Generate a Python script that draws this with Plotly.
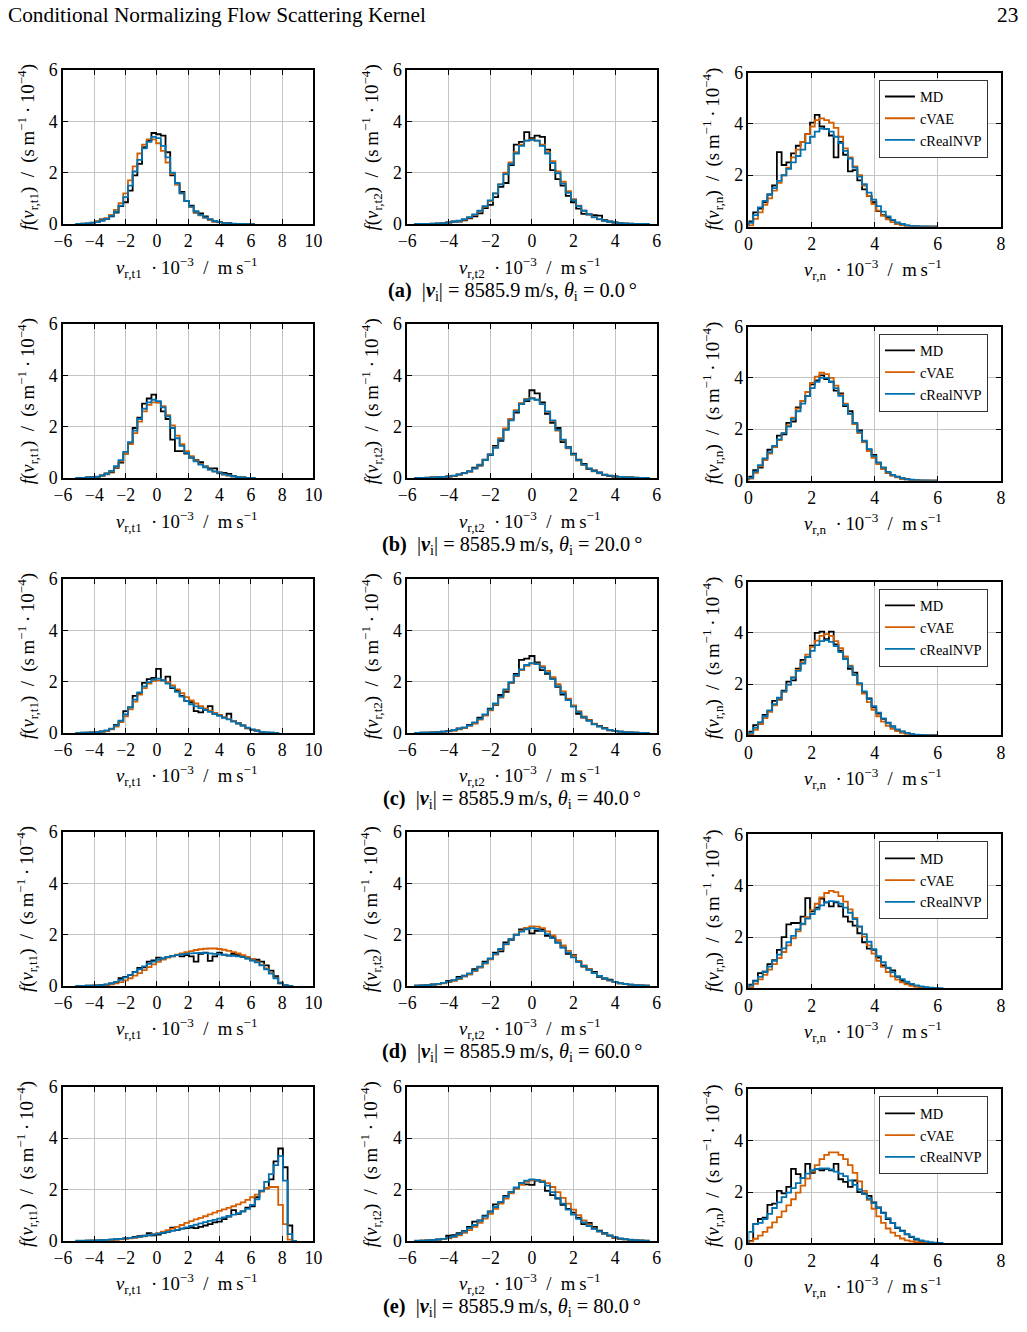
import plotly.graph_objects as go

# The page is photographed with the default 8px body margin and a slight
# down-scale; positions below are given in final screen pixels and mapped back.
PAGE_MARGIN = 8
KX = 1027 / 1043
KY = 1332 / 1352
W, H = 1027, 1336
FS = 1 / KX  # font scale so that text ends up at the intended screen size

# ---------------- data ----------------
# bin layout per column: first bin left edge and bin width (units of 10^3 m/s)
BIN_START = [-5.15, -5.625, 0.0]
BIN_WIDTH = [0.3, 0.25, 0.15]
X_RANGE = [[-6, 10], [-6, 6], [0, 8]]
X_TICKS = [[-6, -4, -2, 0, 2, 4, 6, 8, 10], [-6, -4, -2, 0, 2, 4, 6], [0, 2, 4, 6, 8]]
Y_TICKS = [0, 2, 4, 6]
COMPONENTS = ["t1", "t2", "n"]
SERIES = ["MD", "cVAE", "cRealNVP"]
ROW_LETTERS = ["a", "b", "c", "d", "e"]
SPEED = 8585.9
THETA = [0.0, 20.0, 40.0, 60.0, 80.0]

# row a
a1_md = [0.0,0.01,0.02,0.06,0.1,0.18,0.2,0.3,0.45,0.7,0.85,1.3,1.9,2.35,3.0,3.25,3.55,3.5,3.45,2.8,1.9,1.55,1.25,0.9,0.72,0.45,0.42,0.3,0.18,0.1,0.08,0.05,0.04,0.01,0.01,0,0,0]
a1_cvae = [0.01,0.02,0.03,0.05,0.09,0.15,0.23,0.36,0.55,0.82,1.2,1.7,2.25,2.75,3.1,3.3,3.3,3.15,2.85,2.4,1.95,1.55,1.2,0.9,0.66,0.48,0.34,0.24,0.16,0.1,0.07,0.04,0.02,0.01,0.005,0,0,0]
a1_nvp = [0.01,0.02,0.03,0.05,0.08,0.13,0.2,0.32,0.48,0.72,1.05,1.5,2.05,2.5,2.95,3.2,3.4,3.35,3.05,2.6,2.0,1.6,1.2,0.9,0.68,0.5,0.36,0.26,0.18,0.12,0.08,0.05,0.03,0.02,0.01,0.005,0,0]

a2_md = [0,0,0.01,0.01,0.02,0.04,0.07,0.1,0.1,0.15,0.22,0.3,0.42,0.62,0.75,1.05,1.45,1.6,2.3,3.1,3.2,3.58,3.35,3.45,3.4,2.9,2.1,1.75,1.5,1.1,0.85,0.6,0.4,0.38,0.35,0.33,0.15,0.1,0.07,0.04,0.02,0.01,0.01,0,0]
a2_cvae = [0.005,0.01,0.01,0.02,0.03,0.04,0.06,0.08,0.12,0.17,0.25,0.36,0.5,0.68,0.9,1.2,1.55,2.0,2.4,2.8,3.1,3.25,3.3,3.25,3.1,2.8,2.45,2.05,1.65,1.28,0.97,0.72,0.52,0.37,0.26,0.18,0.12,0.08,0.05,0.035,0.02,0.015,0.01,0.005,0.0]
a2_nvp = [0.005,0.01,0.01,0.02,0.03,0.04,0.06,0.09,0.13,0.19,0.27,0.38,0.52,0.7,0.92,1.2,1.55,1.95,2.35,2.75,3.05,3.25,3.28,3.25,3.05,2.75,2.38,1.98,1.58,1.22,0.93,0.7,0.52,0.38,0.27,0.19,0.13,0.09,0.06,0.04,0.03,0.02,0.01,0.01,0.005]

a3_md = [0.2,0.55,0.7,0.95,1.25,1.6,2.9,2.4,2.5,2.85,3.15,3.3,3.6,4.05,4.35,3.9,3.8,3.55,2.7,3.3,2.8,2.15,2.2,1.8,1.45,1.2,0.95,0.6,0.45,0.35,0.25,0.1,0.1,0.03,0.02,0.01,0,0,0,0]
a3_cvae = [0.05,0.3,0.55,0.85,1.1,1.4,1.7,2.0,2.3,2.7,3.0,3.3,3.6,3.9,4.15,4.22,4.15,4.05,3.85,3.5,3.05,2.7,2.35,2.0,1.6,1.2,0.88,0.62,0.42,0.28,0.17,0.1,0.05,0.03,0.01,0.005,0,0,0,0]
a3_nvp = [0.15,0.45,0.75,1.0,1.25,1.5,1.78,2.0,2.25,2.5,2.75,3.0,3.25,3.5,3.7,3.82,3.8,3.7,3.5,3.25,2.95,2.65,2.3,1.95,1.65,1.32,1.05,0.8,0.58,0.4,0.26,0.16,0.1,0.06,0.03,0.02,0.01,0.005,0,0]

# row b
b1_md = [0,0.01,0.02,0.03,0.04,0.1,0.18,0.22,0.4,0.6,0.95,1.35,1.95,2.35,2.9,3.1,3.25,2.95,2.6,2.3,1.5,1.05,1.05,0.95,0.8,0.7,0.62,0.45,0.38,0.38,0.22,0.2,0.16,0.08,0.04,0.02,0.01,0]
b1_cvae = [0.005,0.01,0.015,0.025,0.04,0.08,0.14,0.25,0.42,0.65,0.95,1.32,1.75,2.2,2.6,2.85,2.95,2.95,2.8,2.45,2.05,1.65,1.32,1.05,0.85,0.68,0.55,0.43,0.33,0.25,0.18,0.13,0.09,0.06,0.04,0.02,0.01,0.005]
b1_nvp = [0.005,0.01,0.02,0.03,0.05,0.09,0.16,0.28,0.46,0.7,1.02,1.4,1.85,2.3,2.7,2.95,3.05,3.0,2.75,2.4,1.95,1.55,1.25,0.98,0.8,0.65,0.52,0.42,0.33,0.26,0.19,0.14,0.1,0.07,0.04,0.02,0.01,0.005]

b2_md = [0,0,0.01,0.02,0.03,0.04,0.06,0.08,0.14,0.2,0.25,0.4,0.48,0.72,0.9,1.25,1.45,1.9,2.3,2.55,2.9,3.0,3.42,3.3,2.95,2.5,2.15,1.95,1.4,1.2,0.95,0.72,0.55,0.35,0.3,0.22,0.12,0.08,0.06,0.04,0.03,0.02,0.01,0,0]
b2_cvae = [0.005,0.01,0.012,0.018,0.027,0.04,0.06,0.085,0.125,0.18,0.26,0.37,0.51,0.7,0.93,1.2,1.55,1.93,2.3,2.65,2.92,3.08,3.12,3.05,2.88,2.58,2.22,1.85,1.48,1.16,0.9,0.68,0.5,0.37,0.26,0.18,0.13,0.09,0.06,0.04,0.03,0.02,0.012,0.008,0.005]
b2_nvp = [0.005,0.01,0.015,0.02,0.03,0.045,0.065,0.09,0.13,0.19,0.27,0.38,0.52,0.7,0.92,1.18,1.5,1.88,2.25,2.6,2.88,3.05,3.1,3.05,2.88,2.6,2.25,1.88,1.5,1.18,0.92,0.7,0.52,0.38,0.27,0.19,0.13,0.09,0.065,0.045,0.03,0.02,0.015,0.01,0.005]

b3_md = [0.15,0.4,0.5,0.85,1.2,1.3,1.75,1.8,2.25,2.3,2.85,3.1,3.3,3.75,3.9,4.1,3.95,3.85,3.5,3.4,2.9,2.7,2.2,1.95,1.5,1.2,1.0,0.7,0.5,0.3,0.2,0.15,0.08,0.05,0.02,0.01,0,0,0,0]
b3_cvae = [0.08,0.3,0.55,0.8,1.05,1.3,1.58,1.85,2.15,2.45,2.8,3.1,3.45,3.8,4.05,4.2,4.15,4.0,3.7,3.35,3.0,2.6,2.2,1.85,1.5,1.15,0.88,0.64,0.45,0.3,0.19,0.12,0.07,0.04,0.02,0.01,0.005,0,0,0]
b3_nvp = [0.1,0.35,0.6,0.85,1.1,1.35,1.6,1.85,2.1,2.4,2.7,3.0,3.3,3.6,3.85,4.0,4.0,3.85,3.6,3.3,2.95,2.6,2.25,1.9,1.55,1.22,0.95,0.7,0.5,0.34,0.22,0.14,0.09,0.05,0.03,0.015,0.008,0.004,0,0]

# row c
c1_md = [0,0,0.01,0.02,0.03,0.06,0.08,0.15,0.32,0.45,0.85,1.0,1.45,1.55,1.95,2.1,2.15,2.5,2.05,2.2,1.75,1.65,1.45,1.25,1.2,0.85,0.8,0.9,1.05,0.75,0.7,0.6,0.75,0.45,0.38,0.3,0.18,0.12,0.1,0.04,0.01,0.01,0]
c1_cvae = [0.005,0.01,0.012,0.018,0.025,0.04,0.08,0.14,0.25,0.42,0.65,0.92,1.22,1.5,1.75,1.92,2.02,2.05,2.05,1.98,1.85,1.7,1.55,1.4,1.27,1.15,1.05,0.96,0.87,0.78,0.7,0.62,0.54,0.46,0.38,0.29,0.2,0.13,0.07,0.035,0.015,0.007,0.003]
c1_nvp = [0.005,0.01,0.015,0.02,0.03,0.05,0.1,0.17,0.3,0.48,0.72,1.0,1.3,1.58,1.82,1.98,2.08,2.12,2.05,1.92,1.78,1.6,1.42,1.25,1.12,1.04,0.97,0.9,0.82,0.74,0.67,0.6,0.53,0.45,0.37,0.29,0.21,0.14,0.08,0.04,0.02,0.01,0.005]

c2_md = [0,0.01,0.01,0.02,0.04,0.05,0.08,0.1,0.18,0.2,0.32,0.38,0.6,0.7,0.95,1.1,1.48,1.6,1.95,2.3,2.85,2.9,3.0,2.75,2.45,2.3,2.15,1.8,1.5,1.3,1.05,0.75,0.6,0.5,0.35,0.28,0.2,0.1,0.08,0.05,0.03,0.02,0.01,0,0]
c2_cvae = [0.004,0.008,0.012,0.02,0.03,0.045,0.065,0.095,0.14,0.2,0.28,0.38,0.52,0.68,0.88,1.12,1.38,1.66,1.95,2.22,2.45,2.62,2.7,2.7,2.6,2.42,2.18,1.9,1.62,1.34,1.08,0.85,0.65,0.49,0.36,0.26,0.18,0.12,0.08,0.05,0.033,0.02,0.013,0.008,0.004]
c2_nvp = [0.005,0.01,0.015,0.025,0.035,0.05,0.075,0.11,0.16,0.22,0.3,0.41,0.55,0.72,0.92,1.15,1.42,1.7,1.98,2.25,2.48,2.65,2.72,2.68,2.55,2.35,2.1,1.83,1.55,1.28,1.03,0.81,0.62,0.47,0.34,0.25,0.17,0.12,0.08,0.05,0.035,0.02,0.015,0.008,0.004]

c3_md = [0.15,0.4,0.45,0.8,0.95,1.35,1.4,1.75,2.1,2.15,2.6,2.95,3.05,3.5,4.0,4.05,3.75,4.05,3.55,3.3,3.0,2.6,2.45,2.0,1.65,1.45,1.1,0.85,0.65,0.5,0.35,0.2,0.15,0.1,0.05,0.02,0,0,0,0]
c3_cvae = [0.05,0.22,0.45,0.68,0.92,1.17,1.43,1.7,1.98,2.27,2.56,2.85,3.15,3.45,3.7,3.88,3.95,3.88,3.68,3.4,3.08,2.72,2.35,1.98,1.63,1.3,1.0,0.75,0.54,0.38,0.26,0.17,0.1,0.06,0.03,0.015,0.008,0,0,0]
c3_nvp = [0.1,0.3,0.52,0.75,0.98,1.22,1.47,1.72,1.98,2.25,2.52,2.8,3.05,3.3,3.52,3.68,3.72,3.65,3.48,3.25,2.98,2.68,2.36,2.04,1.72,1.42,1.14,0.89,0.67,0.49,0.35,0.24,0.16,0.1,0.06,0.035,0.02,0.01,0.005,0]

# row d
d1_md = [0,0,0.01,0.01,0.02,0.04,0.05,0.1,0.15,0.3,0.35,0.42,0.55,0.7,0.72,0.95,1.0,1.1,1.05,1.12,1.15,1.2,1.15,1.2,1.15,0.95,1.25,1.3,0.98,1.15,1.3,1.22,1.18,1.25,1.2,1.15,1.08,1.0,1.02,0.95,0.8,0.6,0.38,0.1,0.02,0]
d1_cvae = [0.002,0.003,0.005,0.008,0.012,0.02,0.035,0.06,0.1,0.15,0.22,0.3,0.4,0.5,0.62,0.73,0.84,0.94,1.03,1.1,1.16,1.22,1.27,1.32,1.36,1.4,1.43,1.45,1.46,1.46,1.44,1.41,1.37,1.32,1.27,1.2,1.13,1.05,0.95,0.83,0.68,0.5,0.32,0.14,0.04,0.005]
d1_nvp = [0.003,0.005,0.008,0.012,0.02,0.035,0.06,0.1,0.16,0.24,0.33,0.43,0.54,0.65,0.76,0.86,0.95,1.02,1.08,1.13,1.17,1.2,1.23,1.25,1.27,1.28,1.29,1.28,1.27,1.25,1.23,1.21,1.19,1.17,1.15,1.12,1.07,1.0,0.92,0.8,0.65,0.48,0.3,0.12,0.03,0.005]

d2_md = [0.01,0.02,0.03,0.06,0.07,0.12,0.2,0.22,0.35,0.4,0.45,0.65,0.72,0.95,1.05,1.3,1.35,1.7,1.8,2.0,2.2,2.25,2.05,2.15,2.2,1.95,1.9,1.7,1.5,1.25,1.2,0.95,0.75,0.65,0.55,0.35,0.28,0.25,0.15,0.1,0.08,0.05,0.03,0.02,0.01]
d2_cvae = [0.008,0.015,0.025,0.04,0.065,0.1,0.15,0.2,0.27,0.36,0.46,0.58,0.72,0.87,1.04,1.22,1.42,1.62,1.82,2.0,2.15,2.26,2.32,2.31,2.25,2.13,1.97,1.78,1.58,1.37,1.17,0.98,0.8,0.65,0.51,0.39,0.29,0.21,0.15,0.1,0.07,0.045,0.03,0.018,0.01]
d2_nvp = [0.01,0.02,0.03,0.05,0.08,0.12,0.17,0.23,0.3,0.39,0.49,0.61,0.75,0.9,1.07,1.25,1.44,1.63,1.82,1.99,2.12,2.21,2.25,2.22,2.14,2.02,1.86,1.68,1.49,1.3,1.11,0.94,0.78,0.63,0.5,0.39,0.3,0.22,0.16,0.11,0.075,0.05,0.03,0.02,0.01]

d3_md = [0.15,0.3,0.6,0.65,0.95,1.1,1.5,2.0,2.5,2.55,2.55,2.8,3.52,3.0,3.15,3.5,3.35,3.2,3.35,3.2,2.8,2.6,2.45,2.15,1.8,1.55,1.5,1.2,0.9,0.8,0.7,0.45,0.3,0.2,0.15,0.1,0.05,0.03,0.01,0.005]
d3_cvae = [0.05,0.18,0.35,0.53,0.73,0.95,1.18,1.42,1.68,1.95,2.22,2.5,2.78,3.05,3.3,3.55,3.72,3.8,3.75,3.6,3.38,3.08,2.75,2.4,2.02,1.68,1.36,1.08,0.84,0.64,0.47,0.34,0.24,0.16,0.1,0.06,0.04,0.02,0.01,0.005]
d3_nvp = [0.12,0.28,0.45,0.65,0.85,1.08,1.32,1.56,1.8,2.05,2.3,2.52,2.72,2.9,3.08,3.24,3.35,3.4,3.38,3.3,3.15,2.95,2.7,2.42,2.12,1.82,1.53,1.26,1.02,0.81,0.63,0.48,0.36,0.26,0.18,0.12,0.08,0.05,0.03,0.015,0.008]

# row e
e1_md = [0,0,0.01,0.01,0.02,0.03,0.03,0.05,0.06,0.08,0.1,0.12,0.16,0.18,0.2,0.3,0.22,0.25,0.3,0.35,0.52,0.42,0.48,0.5,0.52,0.5,0.55,0.6,0.65,0.72,0.75,0.85,0.95,1.2,1.05,1.15,1.3,1.35,1.7,1.95,2.05,2.4,3.1,3.6,2.87,0.6,0.0]
e1_cvae = [0.002,0.004,0.006,0.008,0.012,0.017,0.024,0.033,0.045,0.06,0.08,0.1,0.12,0.15,0.18,0.22,0.26,0.3,0.36,0.42,0.48,0.55,0.62,0.7,0.77,0.84,0.9,0.96,1.03,1.1,1.17,1.23,1.29,1.35,1.42,1.5,1.6,1.7,1.8,1.92,2.05,2.1,2.1,1.4,0.65,0.05,0]
e1_nvp = [0.005,0.008,0.01,0.015,0.02,0.03,0.04,0.05,0.065,0.08,0.1,0.12,0.14,0.16,0.19,0.22,0.25,0.28,0.31,0.35,0.39,0.43,0.48,0.53,0.58,0.63,0.68,0.73,0.78,0.82,0.87,0.92,0.97,1.02,1.08,1.15,1.25,1.4,1.62,1.95,2.3,2.6,2.95,3.3,2.35,0.26,0.0]

e2_md = [0,0.01,0.02,0.04,0.06,0.08,0.2,0.22,0.3,0.38,0.55,0.75,0.8,0.98,1.15,1.42,1.5,1.75,1.9,2.05,2.25,2.2,2.18,2.35,2.3,1.95,1.78,1.65,1.4,1.25,1.1,0.9,0.65,0.7,0.55,0.4,0.3,0.2,0.12,0.08,0.06,0.04,0.02,0.01,0]
e2_cvae = [0.004,0.008,0.015,0.025,0.04,0.065,0.1,0.15,0.22,0.31,0.42,0.55,0.7,0.87,1.05,1.25,1.45,1.65,1.85,2.03,2.18,2.3,2.36,2.38,2.35,2.25,2.1,1.9,1.68,1.45,1.22,1.0,0.8,0.63,0.48,0.36,0.26,0.19,0.13,0.09,0.06,0.04,0.025,0.015,0.008]
e2_nvp = [0.005,0.01,0.02,0.035,0.05,0.08,0.13,0.18,0.26,0.36,0.5,0.62,0.78,0.95,1.13,1.32,1.52,1.72,1.9,2.08,2.25,2.35,2.4,2.38,2.3,2.15,1.9,1.68,1.45,1.22,1.02,0.86,0.72,0.58,0.47,0.37,0.28,0.21,0.15,0.1,0.07,0.045,0.03,0.015,0.008]

e3_md = [0.1,0.75,0.95,1.0,1.5,1.55,2.05,1.95,2.2,2.9,2.7,2.55,3.1,2.75,2.9,2.85,2.9,2.85,3.1,2.5,2.4,2.2,2.45,2.0,1.95,1.85,1.6,1.4,1.2,0.95,0.8,0.6,0.5,0.35,0.25,0.15,0.1,0.05,0.02,0.01]
e3_cvae = [0.08,0.18,0.3,0.45,0.62,0.82,1.02,1.25,1.48,1.72,1.98,2.25,2.52,2.8,3.05,3.28,3.45,3.55,3.55,3.45,3.28,3.05,2.75,2.42,2.05,1.7,1.35,1.05,0.8,0.58,0.42,0.29,0.19,0.12,0.08,0.05,0.03,0.015,0.008]
e3_nvp = [0.45,0.75,0.8,0.95,1.15,1.38,1.6,1.8,1.98,2.15,2.35,2.55,2.72,2.85,2.9,2.92,2.92,2.88,2.8,2.72,2.62,2.45,2.28,2.1,1.92,1.75,1.57,1.38,1.18,0.98,0.8,0.62,0.48,0.36,0.26,0.18,0.12,0.08,0.05,0.03,0.015]

PANELS = [
    [(a1_md, a1_cvae, a1_nvp), (a2_md, a2_cvae, a2_nvp), (a3_md, a3_cvae, a3_nvp)],
    [(b1_md, b1_cvae, b1_nvp), (b2_md, b2_cvae, b2_nvp), (b3_md, b3_cvae, b3_nvp)],
    [(c1_md, c1_cvae, c1_nvp), (c2_md, c2_cvae, c2_nvp), (c3_md, c3_cvae, c3_nvp)],
    [(d1_md, d1_cvae, d1_nvp), (d2_md, d2_cvae, d2_nvp), (d3_md, d3_cvae, d3_nvp)],
    [(e1_md, e1_cvae, e1_nvp), (e2_md, e2_cvae, e2_nvp), (e3_md, e3_cvae, e3_nvp)],
]

# ---------------- styling / layout (screen pixel positions) ----------------
COLORS = ["#000000", "#D55E00", "#0072B2"]
FONT = "Liberation Serif, Times New Roman, serif"
COL_X = [(62, 313), (407, 657), (749, 1002)]
ROW_TOP = [68, 322, 577, 830, 1085]
COL_DY = [0, 0, 2.5]
AX_H = 154


def px_x(p):
    return (p / KX - PAGE_MARGIN) / W


def px_y(p):
    return 1 - (p / KY - PAGE_MARGIN) / H


def fs(size):
    return size * FS


def step_xy(heights, start, width):
    edges = [start + width * i for i in range(len(heights) + 1)]
    xs = [edges[0]] + edges[:-1] + [edges[-1], edges[-1]]
    ys = [0] + list(heights) + [heights[-1], 0]
    return xs, ys


fig = go.Figure()
layout = dict(
    width=W, height=H,
    margin=dict(l=0, r=0, t=0, b=0),
    paper_bgcolor="white", plot_bgcolor="white",
    font=dict(family=FONT, size=fs(17), color="black"),
    annotations=[],
)

for r in range(5):
    for c in range(3):
        idx = r * 3 + c + 1
        xa = "xaxis" if idx == 1 else f"xaxis{idx}"
        ya = "yaxis" if idx == 1 else f"yaxis{idx}"
        xr = "x" if idx == 1 else f"x{idx}"
        yr = "y" if idx == 1 else f"y{idx}"
        left, right = COL_X[c]
        top = ROW_TOP[r] + COL_DY[c]
        bottom = top + AX_H
        common = dict(
            showline=True, linecolor="black", linewidth=1.8, mirror="allticks",
            ticks="inside", ticklen=5, tickwidth=1.2, tickcolor="black",
            showgrid=True, gridcolor="#c4c4c4", gridwidth=1.3, zeroline=False,
            tickfont=dict(family=FONT, size=fs(17.5), color="black"),
        )
        layout[xa] = dict(common, domain=[px_x(left), px_x(right)], anchor=yr,
                          range=X_RANGE[c], tickvals=X_TICKS[c])
        layout[ya] = dict(common, domain=[px_y(bottom), px_y(top)], anchor=xr,
                          range=[0, 6], tickvals=Y_TICKS)

        legend_name = "legend" if r == 0 else f"legend{r + 1}"
        for s in range(3):
            xs, ys = step_xy(PANELS[r][c][s], BIN_START[c], BIN_WIDTH[c])
            fig.add_trace(go.Scatter(
                x=xs, y=ys, xaxis=xr, yaxis=yr, mode="lines",
                line=dict(color=COLORS[s], width=1.8, shape="hv"),
                name=SERIES[s], showlegend=(c == 2), legend=legend_name,
                hoverinfo="skip",
            ))

        comp = COMPONENTS[c]
        ytitle = (f"<i>f</i>(<i>v</i><sub>r,{comp}</sub>)\u2002/\u2002(s\u2009m<sup>\u22121</sup>\u2009\u00b7\u200910<sup>\u22124</sup>)")
        xtitle = (f"<i>v</i><sub>r,{comp}</sub>\u2002\u00b7\u200910<sup>\u22123</sup>\u2002/\u2002m\u2009s<sup>\u22121</sup>")
        layout["annotations"].append(dict(
            text=ytitle, xref="paper", yref="paper", x=px_x(left - 36),
            y=px_y((top + bottom) / 2), xanchor="center", yanchor="middle",
            textangle=-90, showarrow=False, font=dict(family=FONT, size=fs(18.5))))
        layout["annotations"].append(dict(
            text=xtitle, xref="paper", yref="paper", x=px_x((left + right) / 2 - 2),
            y=px_y(bottom + 43), xanchor="center", yanchor="middle",
            showarrow=False, font=dict(family=FONT, size=fs(18.5))))

    # legend inside the right-hand panel
    legend_name = "legend" if r == 0 else f"legend{r + 1}"
    l3, r3 = COL_X[2]
    t3 = ROW_TOP[r] + COL_DY[2]
    layout[legend_name] = dict(
        x=px_x(r3 - 13), y=px_y(t3 + 7), xanchor="right", yanchor="top",
        xref="paper", yref="paper",
        bgcolor="white", bordercolor="#333333", borderwidth=1,
        font=dict(family=FONT, size=fs(14.2)), itemwidth=30, tracegroupgap=0,
    )

    # caption
    caption = (f"<b>({ROW_LETTERS[r]})</b>\u2002|<b><i>v</i></b><sub>i</sub>| = {SPEED:.1f}\u2009m/s, "
               f"<i>\u03b8</i><sub>i</sub> = {THETA[r]:.1f}\u2009\u00b0")
    layout["annotations"].append(dict(
        text=caption, xref="paper", yref="paper", x=px_x(512),
        y=px_y(ROW_TOP[r] + AX_H + 67), xanchor="center", yanchor="middle",
        showarrow=False, font=dict(family=FONT, size=fs(20))))

# page header
layout["annotations"].append(dict(
    text="Conditional Normalizing Flow Scattering Kernel", xref="paper", yref="paper",
    x=px_x(5), y=px_y(13), xanchor="left", yanchor="middle", showarrow=False,
    font=dict(family=FONT, size=fs(21))))
layout["annotations"].append(dict(
    text="23", xref="paper", yref="paper", x=px_x(1021), y=px_y(13),
    xanchor="right", yanchor="middle", showarrow=False, font=dict(family=FONT, size=fs(21))))

fig.update_layout(**layout)
fig.write_html("out.html", config={"displayModeBar": False})
